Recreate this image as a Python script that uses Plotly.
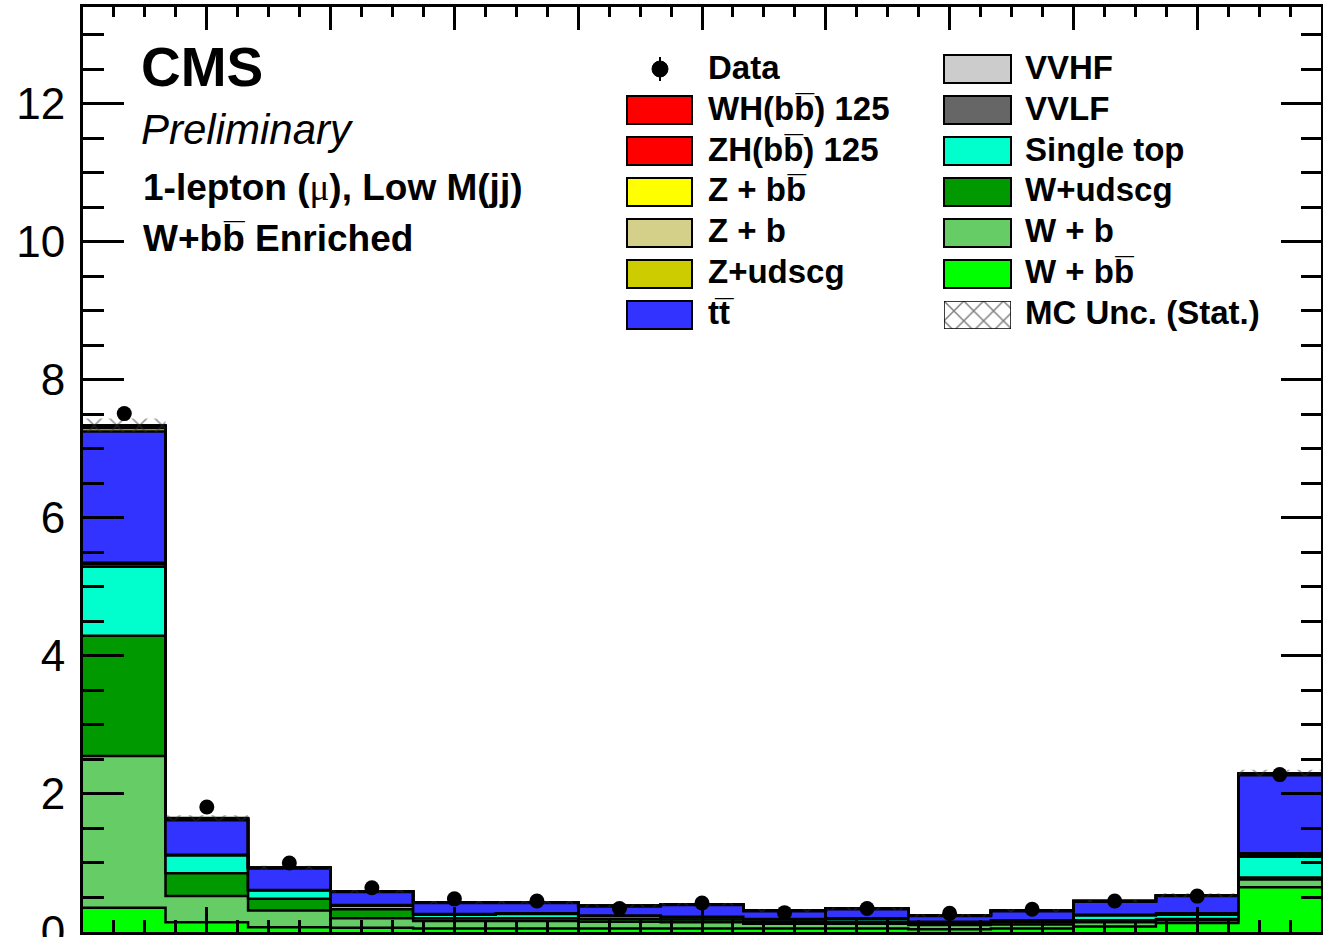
import plotly.graph_objects as go

# ---------------- data ----------------
bin_edges = [i / 15 for i in range(16)]

data_vals = [7.51, 1.81, 1.00, 0.64, 0.48, 0.45, 0.34, 0.42, 0.28, 0.34, 0.27, 0.33, 0.45, 0.52, 2.28]

w_bb    = [0.35, 0.14, 0.07, 0.06, 0.05, 0.05, 0.05, 0.05, 0.05, 0.05, 0.04, 0.05, 0.08, 0.13, 0.65]
w_b     = [2.20, 0.38, 0.24, 0.14, 0.11, 0.11, 0.10, 0.09, 0.07, 0.07, 0.06, 0.06, 0.06, 0.04, 0.11]
w_udscg = [1.74, 0.33, 0.17, 0.13, 0.04, 0.04, 0.04, 0.04, 0.03, 0.03, 0.02, 0.03, 0.03, 0.02, 0.03]
single_top = [1.00, 0.26, 0.12, 0.05, 0.05, 0.06, 0.04, 0.03, 0.03, 0.04, 0.02, 0.02, 0.07, 0.06, 0.30]
vvlf    = [0.04, 0.01, 0.01, 0.01, 0.01, 0.01, 0.01, 0.01, 0.01, 0.01, 0.01, 0.01, 0.01, 0.01, 0.03]
vvhf    = [0.02, 0.00, 0.00, 0.00, 0.00, 0.00, 0.00, 0.00, 0.00, 0.00, 0.00, 0.00, 0.00, 0.01, 0.02]
ttbar   = [1.90, 0.50, 0.31, 0.19, 0.16, 0.15, 0.13, 0.17, 0.11, 0.13, 0.08, 0.13, 0.19, 0.25, 1.13]
z_udscg = [0.05, 0.01, 0.01, 0.01, 0.01, 0.01, 0.01, 0.01, 0.01, 0.01, 0.01, 0.01, 0.01, 0.01, 0.01]
z_b     = [0.02, 0.01, 0.00, 0.00, 0.00, 0.00, 0.00, 0.00, 0.00, 0.00, 0.00, 0.00, 0.00, 0.00, 0.01]
z_bb    = [0.01, 0.00, 0.00, 0.00, 0.00, 0.00, 0.00, 0.00, 0.00, 0.00, 0.00, 0.00, 0.00, 0.00, 0.00]
zh      = [0.00, 0.00, 0.00, 0.00, 0.00, 0.00, 0.00, 0.00, 0.00, 0.00, 0.00, 0.00, 0.00, 0.00, 0.00]
wh      = [0.01, 0.01, 0.00, 0.00, 0.00, 0.00, 0.00, 0.00, 0.00, 0.00, 0.00, 0.00, 0.00, 0.00, 0.01]
mc_stat_err = [0.10, 0.04, 0.03, 0.02, 0.02, 0.02, 0.02, 0.02, 0.02, 0.02, 0.02, 0.02, 0.02, 0.03, 0.05]

# stack order bottom -> top
stack = [
    ("W + bb\u0305", w_bb, "#00FF00"),
    ("W + b", w_b, "#66CC66"),
    ("W+udscg", w_udscg, "#009900"),
    ("Single top", single_top, "#00FFCC"),
    ("VVLF", vvlf, "#666666"),
    ("VVHF", vvhf, "#CCCCCC"),
    ("tt\u0305", ttbar, "#3333FF"),
    ("Z+udscg", z_udscg, "#CCCC00"),
    ("Z + b", z_b, "#D4D08A"),
    ("Z + bb\u0305", z_bb, "#FFFF00"),
    ("ZH(bb\u0305) 125", zh, "#FF0000"),
    ("WH(bb\u0305) 125", wh, "#FF0000"),
]

legend_left = [
    ("WH(bb\u0305) 125", "#FF0000"),
    ("ZH(bb\u0305) 125", "#FF0000"),
    ("Z + bb\u0305", "#FFFF00"),
    ("Z + b", "#D4D08A"),
    ("Z+udscg", "#CCCC00"),
    ("tt\u0305", "#3333FF"),
]
legend_right = [
    ("VVHF", "#CCCCCC"),
    ("VVLF", "#666666"),
    ("Single top", "#00FFCC"),
    ("W+udscg", "#009900"),
    ("W + b", "#66CC66"),
    ("W + bb\u0305", "#00FF00"),
]

# ---------------- layout geometry (pixels) ----------------
W, H = 1323, 937
PX0, PX1, PY0, PY1 = 83, 1321, 7, 932   # plot-area pixel bounds (left, right, top, bottom)
FONT = "Liberation Sans, Arial, sans-serif"


def fx(px):
    return (px - PX0) / (PX1 - PX0)


def fy(py):
    return (PY1 - py) / (PY1 - PY0)


fig = go.Figure()

cum = [0.0] * 15
for i, (name, vals, col) in enumerate(stack):
    cum = [c + v for c, v in zip(cum, vals)]
    fig.add_trace(go.Scatter(
        x=bin_edges, y=cum + [cum[-1]], mode="lines", name=name,
        line=dict(shape="hv", color="black", width=2.5),
        fill="tozeroy" if i == 0 else "tonexty", fillcolor=col,
        showlegend=False, hoverinfo="skip"))

lo = [t - e for t, e in zip(cum, mc_stat_err)]
hi = [t + e for t, e in zip(cum, mc_stat_err)]
fig.add_trace(go.Scatter(x=bin_edges, y=lo + [lo[-1]], mode="lines",
                         line=dict(shape="hv", width=0, color="rgba(0,0,0,0)"),
                         showlegend=False, hoverinfo="skip"))
fig.add_trace(go.Scatter(x=bin_edges, y=hi + [hi[-1]], mode="lines",
                         line=dict(shape="hv", width=0, color="rgba(0,0,0,0)"),
                         fill="tonexty", fillcolor="rgba(0,0,0,0)",
                         fillpattern=dict(shape="x", fgcolor="#333333", bgcolor="rgba(0,0,0,0)",
                                          size=16, solidity=0.2),
                         showlegend=False, hoverinfo="skip"))

centers = [(a + b) / 2 for a, b in zip(bin_edges[:-1], bin_edges[1:])]
fig.add_trace(go.Scatter(x=centers, y=data_vals, mode="markers", name="Data",
                         marker=dict(color="black", size=15), showlegend=False))

# dummy trace for mirrored tick axes
fig.add_trace(go.Scatter(x=[None], y=[None], xaxis="x2", yaxis="y2", showlegend=False))

# hatched legend box for MC Unc.
fig.add_trace(go.Scatter(x=[0, 1, 1, 0, 0], y=[0, 0, 1, 1, 0], xaxis="x3", yaxis="y3",
                         mode="lines", line=dict(color="black", width=1.5),
                         fill="toself", fillcolor="white",
                         fillpattern=dict(shape="x", fgcolor="#000000", bgcolor="white",
                                          size=14, solidity=0.2),
                         showlegend=False, hoverinfo="skip"))

YMAX = 13.4
tick_common = dict(ticks="inside", tickcolor="black", tickwidth=2.5, showgrid=False,
                   zeroline=False, automargin=False)

fig.update_layout(
    width=W, height=H,
    margin=dict(l=PX0, r=W - PX1, t=PY0, b=H - PY1, autoexpand=False),
    paper_bgcolor="white", plot_bgcolor="white",
    showlegend=False,
    font=dict(family=FONT, color="black"),
    xaxis=dict(range=[0, 1], tick0=0, dtick=0.1, ticklen=25, showticklabels=False,
               showline=True, linecolor="black", linewidth=3, mirror=True,
               minor=dict(dtick=0.025, ticklen=12, ticks="inside", tickcolor="black", tickwidth=2.5),
               **tick_common),
    yaxis=dict(range=[0, YMAX], tick0=0, dtick=2, ticklen=41,
               showline=True, linecolor="black", linewidth=3, mirror=True,
               tickfont=dict(size=44, family=FONT, color="black"), ticklabelstandoff=6,
               ticklabeloverflow="allow",
               minor=dict(dtick=0.5, ticklen=21, ticks="inside", tickcolor="black", tickwidth=2.5),
               **tick_common),
    xaxis2=dict(range=[0, 1], overlaying="x", side="top", anchor="y2", tick0=0, dtick=0.1,
                ticklen=23, showticklabels=False, showline=False,
                minor=dict(dtick=0.025, ticklen=10, ticks="inside", tickcolor="black", tickwidth=2.5),
                **tick_common),
    yaxis2=dict(range=[0, YMAX], overlaying="y", side="right", anchor="x2", tick0=0, dtick=2,
                ticklen=40, showticklabels=False, showline=False,
                minor=dict(dtick=0.5, ticklen=20, ticks="inside", tickcolor="black", tickwidth=2.5),
                **tick_common),
    xaxis3=dict(domain=[fx(944), fx(1011)], range=[0, 1], anchor="y3", visible=False),
    yaxis3=dict(domain=[fy(329), fy(301)], range=[0, 1], anchor="x3", visible=False),
)

# ---------------- texts ----------------
def add_text(px, py, text, size, **kw):
    fig.add_annotation(x=fx(px), y=fy(py), xref="paper", yref="paper", text=text,
                       showarrow=False, xanchor="left", yanchor="middle",
                       font=dict(size=size, family=FONT, color="black"), **kw)


add_text(139, 67, "<b>CMS</b>", 55)
add_text(139, 129, "<i>Preliminary</i>", 42)
add_text(141, 187,
         "<b>1-lepton (<span style=\"font-family:'Liberation Serif';font-weight:normal\">\u03bc</span>), Low M(jj)</b>",
         37)
add_text(141, 238, "<b>W+bb\u0305 Enriched</b>", 37)

# ---------------- legend ----------------
ROW0, DROW = 69, 41
LEG_FONT = 33
# Data entry
fig.add_shape(type="line", xref="paper", yref="paper", x0=fx(660), x1=fx(660), y0=fy(57), y1=fy(81),
              line=dict(color="black", width=2))
fig.add_shape(type="circle", xref="paper", yref="paper", x0=fx(652), x1=fx(668), y0=fy(77), y1=fy(61),
              fillcolor="black", line=dict(color="black", width=1))
add_text(706, ROW0 - 2, "<b>Data</b>", LEG_FONT)

for i, (label, col) in enumerate(legend_left):
    yc = ROW0 + DROW * (i + 1)
    fig.add_shape(type="rect", xref="paper", yref="paper", x0=fx(627), x1=fx(692),
                  y0=fy(yc + 14), y1=fy(yc - 14), fillcolor=col, line=dict(color="black", width=2))
    add_text(706, yc - 2, "<b>%s</b>" % label, LEG_FONT)

for i, (label, col) in enumerate(legend_right):
    yc = ROW0 + DROW * i
    fig.add_shape(type="rect", xref="paper", yref="paper", x0=fx(944), x1=fx(1011),
                  y0=fy(yc + 14), y1=fy(yc - 14), fillcolor=col, line=dict(color="black", width=2))
    add_text(1023, yc - 2, "<b>%s</b>" % label, LEG_FONT)

add_text(1023, ROW0 + DROW * 6 - 2, "<b>MC Unc. (Stat.)</b>", LEG_FONT)

fig.write_html("out.html", config={"displayModeBar": False},
               post_script="document.body.style.margin='0';document.body.style.overflow='hidden';")
